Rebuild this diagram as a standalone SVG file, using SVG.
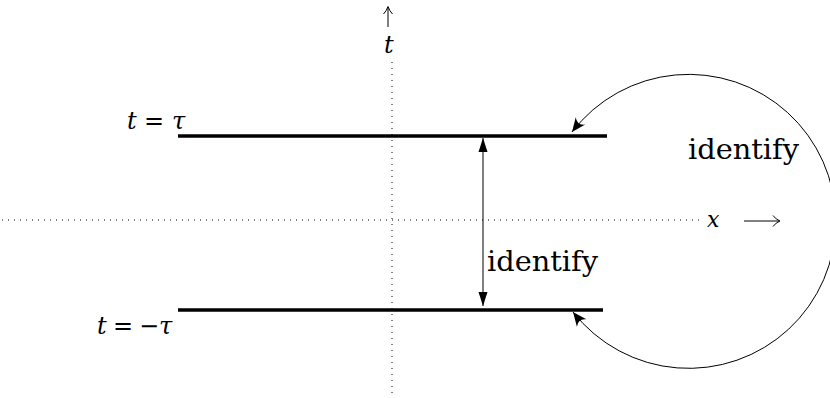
<svg xmlns="http://www.w3.org/2000/svg" width="830" height="398" viewBox="0 0 830 398">
<style>
.dot{stroke:#000;stroke-width:1;stroke-dasharray:1 5;fill:none}
.bar{stroke:#000;stroke-width:3.5;fill:none}
.thin{stroke:#000;stroke-width:1;fill:none}
</style>
<defs>
<marker id="tri" viewBox="-14 -5 15 10" refX="0" refY="0" markerWidth="15" markerHeight="10" markerUnits="userSpaceOnUse" orient="auto-start-reverse">
<path d="M0,0 L-14,-4.5 L-14,4.5 Z" fill="#000"/>
</marker>
<marker id="stealth" viewBox="-15 -7 16 14" refX="0" refY="0" markerWidth="16" markerHeight="14" markerUnits="userSpaceOnUse" orient="auto-start-reverse">
<path d="M0,0 L-14,-6 Q-8,0 -14,6 Z" fill="#000"/>
</marker>
</defs>
<g id="axes">
<line class="dot" x1="2" y1="220" x2="702" y2="220"/>
<line class="dot" x1="392" y1="62" x2="392" y2="396"/>
<line class="thin" x1="388" y1="7" x2="388" y2="27"/>
<path class="thin" d="M383.5,14 Q386.5,11 388,6.5 Q389.5,11 392.5,14"/>
<text x="384" y="53" font-size="24" font-family="DejaVu Serif" font-style="italic">t</text>
<text x="707" y="227" font-size="22" font-family="DejaVu Serif" font-style="italic">x</text>
<line class="thin" x1="744" y1="221" x2="779" y2="221"/>
<path class="thin" d="M773,215.5 Q776,219.5 780,221 Q776,222.5 773,226.5"/>
</g>
<g id="top-line">
<line class="bar" x1="178" y1="136" x2="607" y2="136"/>
<text y="129" font-size="24" font-family="DejaVu Serif"><tspan font-style="italic" x="127">t</tspan><tspan x="144">=</tspan><tspan font-style="italic" x="172">τ</tspan></text>
</g>
<g id="bottom-line">
<line class="bar" x1="178" y1="310" x2="603" y2="310"/>
<text y="334" font-size="24" font-family="DejaVu Serif"><tspan font-style="italic" x="97">t</tspan><tspan x="113">=</tspan><tspan x="139">−</tspan><tspan font-style="italic" x="159">τ</tspan></text>
</g>
<g id="connectors">
<line class="thin" x1="483" y1="138" x2="483" y2="306" marker-start="url(#tri)" marker-end="url(#tri)"/>
<path class="thin" d="M572,132 A147,147 0 1 1 573,312" marker-start="url(#stealth)" marker-end="url(#stealth)"/>
</g>
<g id="labels">
<text x="487" y="271" font-size="28" font-family="DejaVu Serif" textLength="111" lengthAdjust="spacingAndGlyphs">identify</text>
<text x="688" y="159" font-size="28" font-family="DejaVu Serif" textLength="111" lengthAdjust="spacingAndGlyphs">identify</text>
</g>
</svg>
